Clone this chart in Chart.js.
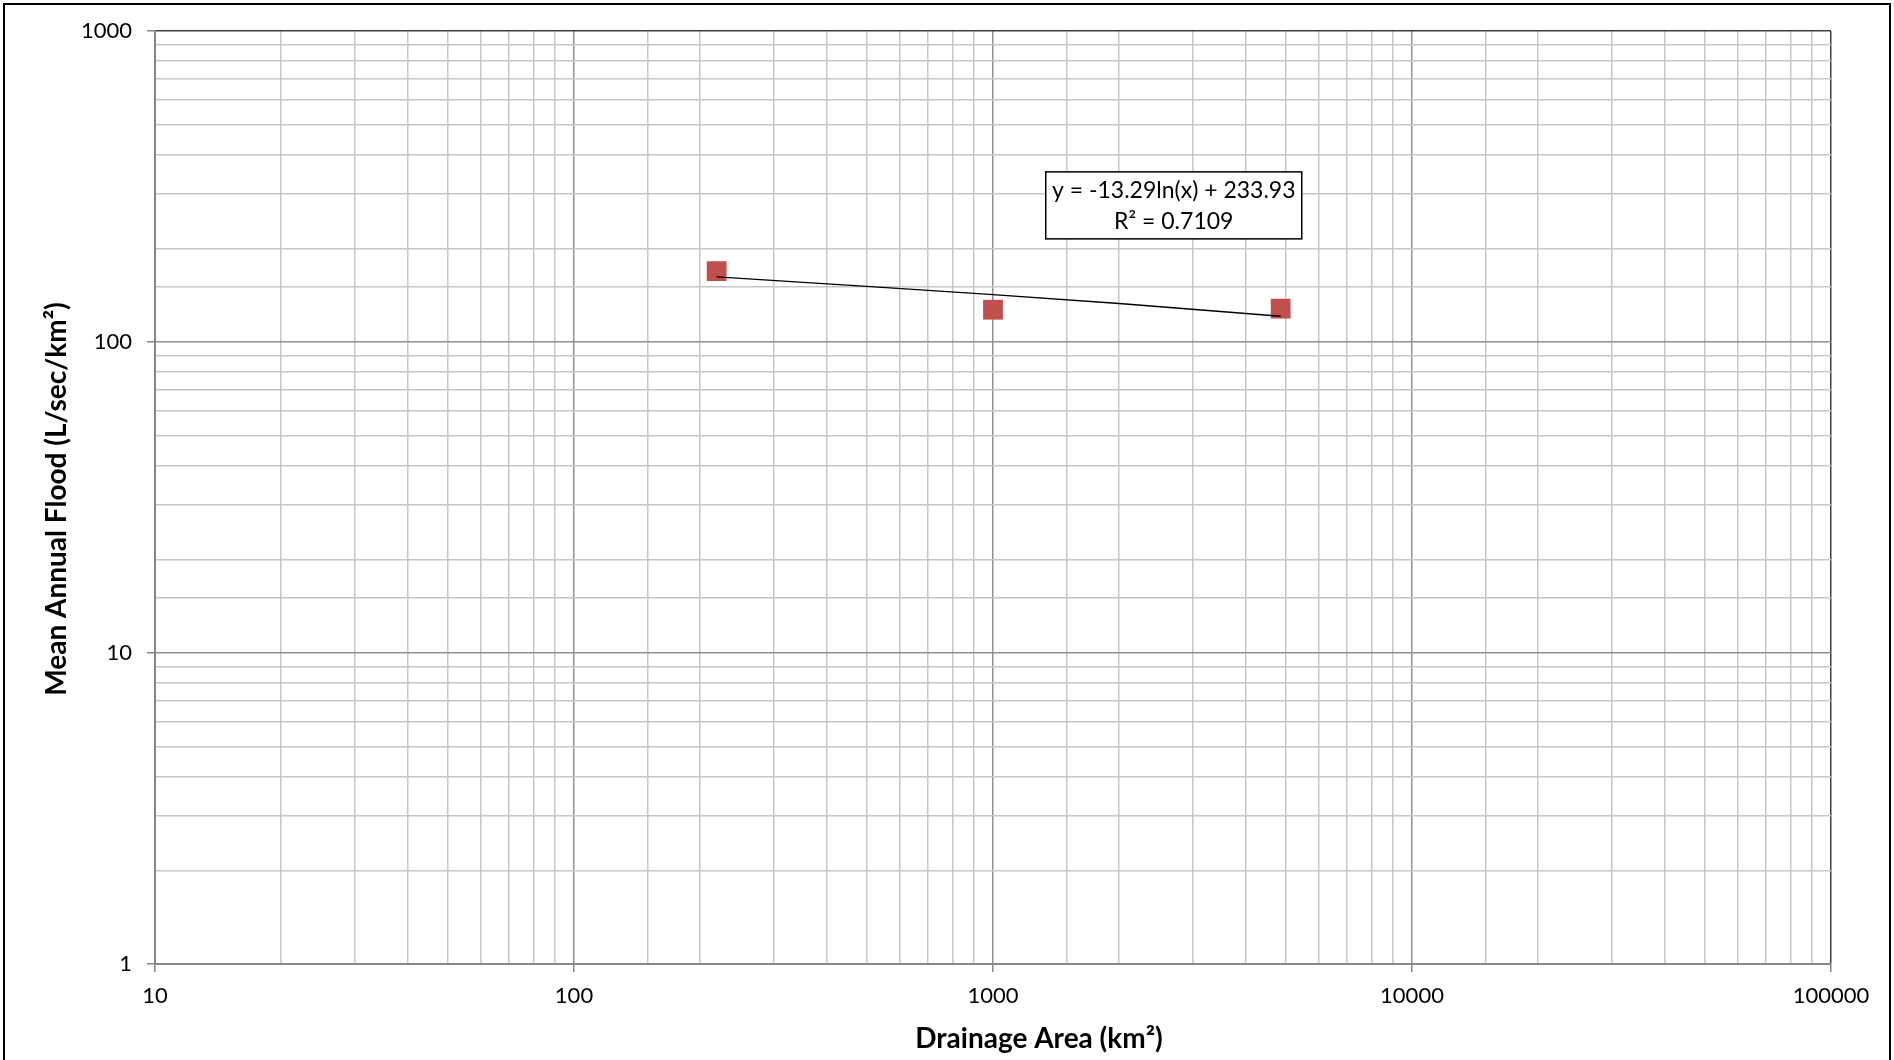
<!DOCTYPE html>
<html>
<head>
<meta charset="utf-8">
<script src="https://cdn.jsdelivr.net/npm/chart.js@4.4.1/dist/chart.umd.min.js"></script>
<style>
  html, body { margin: 0; padding: 0; background: #fff; }
  canvas { display: block; }
</style>
</head>
<body>
<canvas id="myChart" width="1894" height="1060"></canvas>
<script>
// drainage area (km2) vs mean annual flood (L/sec/km2)
var areas = [219, 1000, 4860];
var floods = [169, 127, 128];
// log trendline
var trendAreas = [219, 500, 1000, 2000, 4860];
var trendFloods = [162, 151, 142, 133, 121];
var xTickLabels = [10, 100, 1000, 10000, 100000];
var yTickLabels = [1, 10, 100, 1000];
var equationText = ['y = -13.29ln(x) + 233.93', 'R\u00B2 = 0.7109'];
var equationAt = { x: 2700, y: 275 };
var xTitle = 'Drainage Area (km\u00B2)';
var yTitle = 'Mean Annual Flood (L/sec/km\u00B2)';

var FONT = 'Lato';
var MINOR = '#c6c6c6';
var MAJOR = '#909090';

function isIn(list, v) {
  for (var i = 0; i < list.length; i++) {
    if (Math.abs(list[i] - v) < 1e-6 * list[i]) return true;
  }
  return false;
}
function isMajor(v) {
  var l = Math.log10(v);
  return Math.abs(l - Math.round(l)) < 1e-9;
}

function toPoints(xs, ys) {
  return xs.map(function (x, i) { return { x: x, y: ys[i] }; });
}

var extras = {
  id: 'extras',
  afterDraw: function (chart) {
    var ctx = chart.ctx;
    var xs = chart.scales.x, ys = chart.scales.y;
    ctx.save();
    // outer frame
    ctx.strokeStyle = '#000';
    ctx.lineWidth = 2;
    ctx.strokeRect(4, 4, 1886, 1100);

    // axis titles
    ctx.fillStyle = '#000';
    ctx.font = 'bold 28px ' + FONT;
    ctx.textAlign = 'center';
    ctx.textBaseline = 'middle';
    ctx.fillText(xTitle, 1039, 1039);
    ctx.save();
    ctx.translate(57, 499);
    ctx.rotate(-Math.PI / 2);
    ctx.fillText(yTitle, 0, 0);
    ctx.restore();

    // equation box
    var cx = xs.getPixelForValue(equationAt.x);
    var cy = ys.getPixelForValue(equationAt.y);
    var w = 256, h = 67;
    ctx.fillStyle = '#fff';
    ctx.fillRect(cx - w / 2, cy - h / 2, w, h);
    ctx.strokeStyle = '#000';
    ctx.lineWidth = 1.5;
    ctx.strokeRect(cx - w / 2, cy - h / 2, w, h);
    ctx.fillStyle = '#000';
    ctx.font = '23px ' + FONT;
    ctx.fillText(equationText[0], cx, cy - 15);
    ctx.fillText(equationText[1], cx, cy + 16);
    ctx.restore();
  }
};

function gridColor(edgeValue) {
  return function (c) {
    if (!c.tick) return MINOR;
    if (c.tick.value === edgeValue) return '#404040';
    return isMajor(c.tick.value) ? MAJOR : MINOR;
  };
}
function tickColor(c) {
  return c.tick && isMajor(c.tick.value) ? '#868686' : 'rgba(0,0,0,0)';
}

var mychart = document.getElementById('myChart').getContext('2d');
var floodChart = new Chart(mychart, {
  type: 'scatter',
  data: {
    datasets: [{
      label: 'trend',
      data: toPoints(trendAreas, trendFloods),
      showLine: true,
      borderColor: '#000',
      borderWidth: 1.3,
      pointRadius: 0,
      order: 0
    }, {
      label: 'stations',
      data: toPoints(areas, floods),
      pointStyle: 'rect',
      pointRadius: 14,
      backgroundColor: '#C0504D',
      borderColor: '#C0504D',
      borderWidth: 0,
      order: 1
    }]
  },
  options: {
    responsive: false,
    animation: false,
    layout: { padding: { left: 0, top: 31, right: 63, bottom: 0 } },
    plugins: {
      legend: { display: false },
      tooltip: { enabled: false }
    },
    scales: {
      x: {
        type: 'logarithmic',
        min: 10,
        max: 100000,
        afterFit: function (s) { s.height = 96; },
        border: { color: '#868686', width: 2 },
        grid: {
          color: gridColor(100000),
          lineWidth: 1.5,
          tickLength: 8,
          tickColor: tickColor,
          tickWidth: 1.5
        },
        ticks: {
          autoSkip: false,
          maxRotation: 0,
          padding: 11,
          color: '#000',
          font: { family: FONT, size: 22 },
          callback: function (v) { return isIn(xTickLabels, v) ? String(v) : ''; }
        }
      },
      y: {
        type: 'logarithmic',
        min: 1,
        max: 1000,
        afterFit: function (s) { s.width = 155; },
        border: { color: '#868686', width: 2 },
        grid: {
          color: gridColor(1000),
          lineWidth: 1.5,
          tickLength: 8,
          tickColor: tickColor,
          tickWidth: 1.5
        },
        ticks: {
          autoSkip: false,
          padding: 15,
          color: '#000',
          font: { family: FONT, size: 22 },
          callback: function (v) { return isIn(yTickLabels, v) ? String(v) : ''; }
        }
      }
    }
  },
  plugins: [extras]
});
</script>
</body>
</html>
